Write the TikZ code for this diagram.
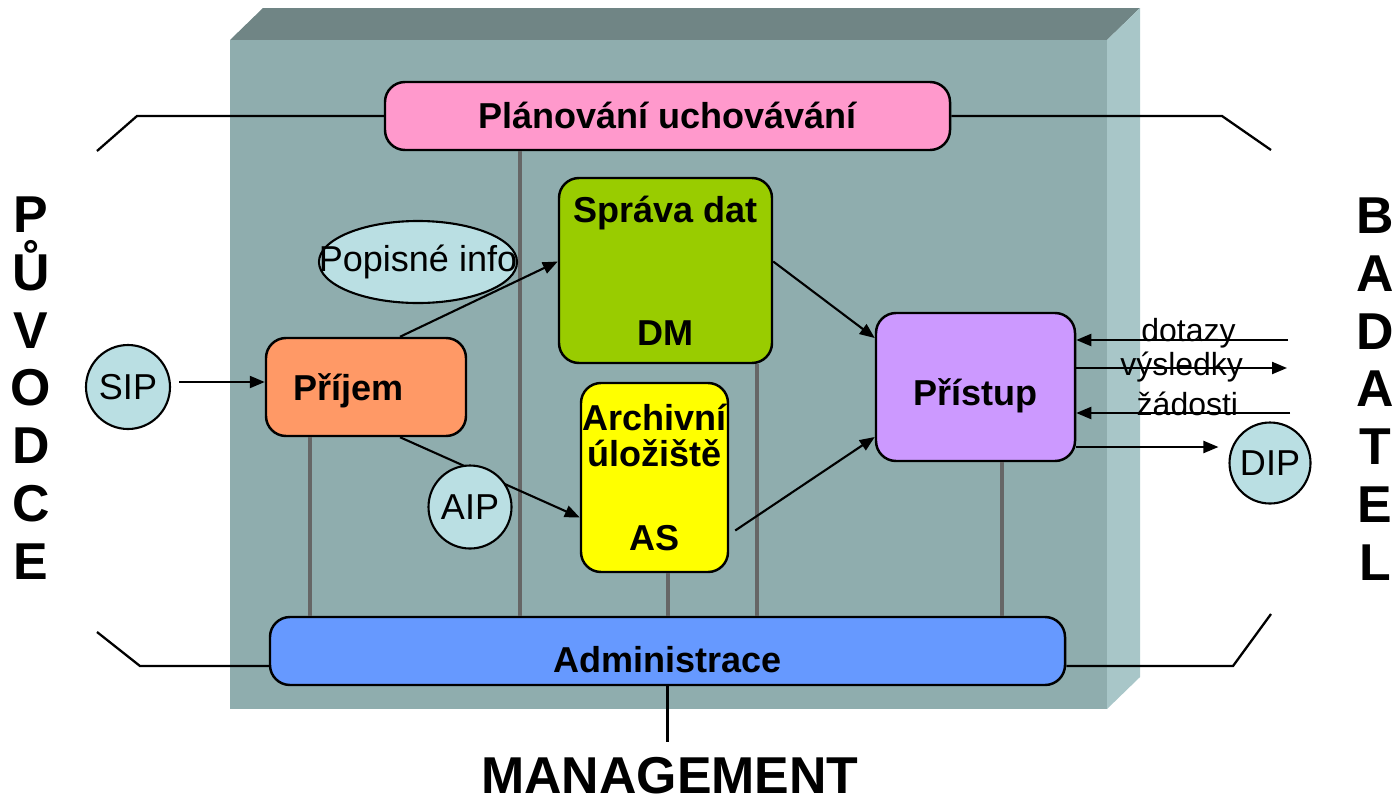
\documentclass[tikz,border=0pt]{standalone}
\usepackage{fontspec}
\setmainfont{Liberation Sans}
\usetikzlibrary{arrows.meta, shapes.geometric, calc, positioning}

\definecolor{frontface}{HTML}{8FADAE}
\definecolor{topface}{HTML}{708585}
\definecolor{sideface}{HTML}{A8C6C8}
\definecolor{planfill}{HTML}{FF99CC}
\definecolor{spravafill}{HTML}{99CC00}
\definecolor{archivfill}{HTML}{FFFF00}
\definecolor{prijemfill}{HTML}{FF9966}
\definecolor{pristupfill}{HTML}{CC99FF}
\definecolor{adminfill}{HTML}{6699FF}
\definecolor{bubblefill}{HTML}{BADFE3}
\definecolor{linkgray}{HTML}{666666}

\begin{document}
\begin{tikzpicture}[x=0.2mm, y=-0.2mm, >={Triangle[length=3mm,width=2.4mm]},
	box/.style={draw, line width=1.4pt, rounded corners=4mm, inner sep=0pt,
		align=center, font=\bfseries\fontsize{20.5}{20.5}\selectfont},
	bubble/.style={draw, line width=1.2pt, fill=bubblefill, inner sep=0pt,
		font=\fontsize{20.5}{24}\selectfont},
	link/.style={draw=linkgray, line width=0.8mm},
	flow/.style={->, line width=1.2pt},
	tick/.style={line width=1.3pt},
	tag/.style={inner sep=0pt, font=\fontsize{18.2}{20}\selectfont},
	sideword/.style={align=center, inner sep=0pt, font=\bfseries\fontsize{29.5}{32.9}\selectfont}]
	\useasboundingbox (0,0) rectangle (1395,802);

	% the block
	\fill[topface] (230,40) -- (263,8) -- (1140,8) -- (1107,40) -- cycle;
	\fill[sideface] (1107,40) -- (1140,8) -- (1140,677) -- (1107,709) -- cycle;
	\fill[frontface] (230,40) rectangle (1107,709);

	% functions
	\node[box, fill=planfill, minimum width=113mm, minimum height=13.6mm,
		text height=4.8mm, text depth=0pt] (plan) at (667.5,116) {Plánování uchovávání};
	\node[box, fill=spravafill, minimum width=42.6mm, minimum height=37mm] (sprava) at (665.5,270.5) {Správa dat\\[49.5pt]DM};
	\node[box, fill=archivfill, minimum width=29.4mm, minimum height=37.8mm] (archiv) at (654.5,477.5) {Archivní\\úložiště\\[27.3pt]AS};
	\node[box, fill=prijemfill, minimum height=19.6mm, text width=29.2mm, inner xsep=5.4mm,
		align=left, text height=5.2mm, text depth=0pt] (prijem) at (366,387) {Příjem};
	\node[box, fill=pristupfill, minimum width=39.8mm, minimum height=29.6mm,
		text height=7.2mm, text depth=0pt] (pristup) at (975.5,387) {Přístup};
	\node[box, fill=adminfill, minimum width=159mm, minimum height=13.6mm,
		text height=8.4mm, text depth=0pt] (admin) at (667.5,651) {Administrace};

	% side and bottom words
	\node[sideword] (puvodce) at (31,388) {P\\Ů\\V\\O\\D\\C\\E};
	\node[sideword] (badatel) at (1375,389) {B\\A\\D\\A\\T\\E\\L};
	\node[inner sep=0pt, font=\bfseries\fontsize{29.5}{29.5}\selectfont] (mgmt) at (670,776) {MANAGEMENT};

	% brackets
	\coordinate (tlEnd) at (97,151);
	\coordinate (trEnd) at (1271,150);
	\coordinate (blEnd) at (97,632);
	\coordinate (brEnd) at (1271,614);
	\draw[tick] (tlEnd) -- (137,116) -- (plan.west);
	\draw[tick] (plan.east) -- (1222,116) -- (trEnd);
	\coordinate (bl) at (140,666);
	\coordinate (br) at (1233,666);
	\draw[tick] (blEnd) -- (bl) -- (bl -| admin.west);
	\draw[tick] (br -| admin.east) -- (br) -- (brEnd);
	\draw[tick, shorten >=3mm] (admin.south) -- (admin.south |- mgmt.north);

	% links to administration
	\foreach \gx/\from in {310/prijem, 520/plan, 757/sprava, 1002/pristup}
		\draw[link] (\gx,0 |- \from.south) -- (\gx,0 |- admin.north);
	\draw[link] (archiv.south -| admin.north) -- (admin.north);

	% packages
	\node[bubble, circle, minimum size=16.8mm] (sip) at (128,387) {SIP};
	\node[bubble, circle, minimum size=16.2mm] (dip) at (1270,463) {DIP};

	\draw[flow] ($(sip.east)+(8,-5)$) -- ($(prijem.west)+(0,-5)$);
	\draw[flow] ($(prijem.north)+(34,0)$) -- ($(sprava.west)+(0,-9)$);
	\draw[flow] ($(prijem.south)+(34,0)$) -- ($(archiv.west)+(0,40)$);
	\draw[flow] ($(sprava.east)+(0,-9)$) -- ($(pristup.west)+(0,-49)$);
	\draw[flow] ($(archiv.east)+(6,53)$) -- ($(pristup.west)+(0,50)$);

	% requests from the user
	\coordinate (dotazyEnd) at (1288,340);
	\coordinate (vysledkyEnd) at (1287,368);
	\coordinate (zadostiEnd) at (1290,413);
	\draw[flow] (dotazyEnd) -- (dotazyEnd -| pristup.east)
		node[tag, pos=0.47, anchor=base, yshift=-0.3mm] {dotazy};
	\draw[flow] (vysledkyEnd -| pristup.east) -- (vysledkyEnd)
		node[tag, midway, anchor=base, yshift=-1.4mm] {výsledky};
	\draw[flow] (zadostiEnd) -- (zadostiEnd -| pristup.east)
		node[tag, pos=0.48, anchor=base, yshift=-0.4mm] {žádosti};
	\draw[flow, shorten >=2mm] ($(pristup.east)+(0,60)$) coordinate (dipFrom) -- (dipFrom -| dip.west);

	\node[bubble, circle, minimum size=16.6mm] (aip) at (470,507) {AIP};
	\node[bubble, ellipse, minimum width=39.6mm, minimum height=16.4mm] (popis) at (418,262) {\makebox[0pt]{Popisné info}};
\end{tikzpicture}
\end{document}
